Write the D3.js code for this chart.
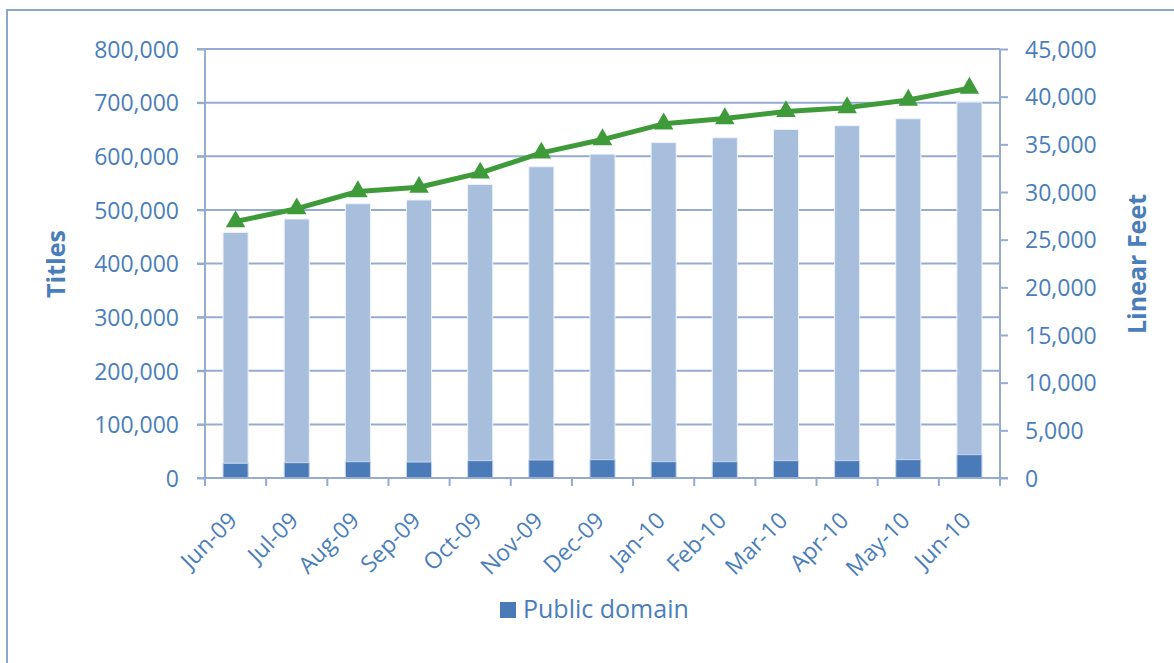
<!DOCTYPE html>
<html>
<head>
<meta charset="utf-8">
<script src="https://cdn.jsdelivr.net/npm/d3@7"></script>
<style>
  html, body { margin: 0; padding: 0; background: #fff; }
  svg { display: block; }
  text { font-family: "Open Sans", sans-serif; fill: #4a7ebb; }
</style>
</head>
<body>
<svg id="chart" width="1174" height="663"></svg>
<script>
// ---- Data ----
const months = ["Jun-09","Jul-09","Aug-09","Sep-09","Oct-09","Nov-09","Dec-09","Jan-10","Feb-10","Mar-10","Apr-10","May-10","Jun-10"];
const totalTitles = [458000, 483000, 511500, 518500, 547500, 580500, 604000, 625500, 634500, 650000, 657000, 670000, 701000];
const publicDomain = [27500, 28600, 30400, 29800, 32300, 33600, 34200, 30400, 30400, 32300, 32300, 34200, 43500];
const linearFeet = [26900, 28250, 30050, 30500, 32000, 34100, 35500, 37150, 37700, 38450, 38850, 39650, 40900];
const leftTicks = [0, 100000, 200000, 300000, 400000, 500000, 600000, 700000, 800000];
const rightTicks = [0, 5000, 10000, 15000, 20000, 25000, 30000, 35000, 40000, 45000];

const svg = d3.select("#chart");
const L = 205, R = 1000, T = 49, B = 478;
const gridColor = "#95abd0";
const textColor = "#4a7ebb";

// border
svg.append("rect").attr("x", 7).attr("y", 10).attr("width", 1300).attr("height", 800)
  .attr("fill", "none").attr("stroke", "#8ea6cc").attr("stroke-width", 2);

const x = d3.scaleBand().domain(months).range([L, R]).paddingInner(0.59).paddingOuter(0.295);
const xb = d3.scaleBand().domain(months).range([L, R]);
const yL = d3.scaleLinear().domain([0, 800000]).range([B, T]);
const yR = d3.scaleLinear().domain([0, 45000]).range([B, T]);

// gridlines
svg.append("g").selectAll("line").data(leftTicks.filter(d => d > 0)).join("line")
  .attr("x1", L - 8).attr("x2", R).attr("y1", d => yL(d)).attr("y2", d => yL(d))
  .attr("stroke", gridColor).attr("stroke-width", 2);

// left axis
const fmt = d3.format(",");
const gL = svg.append("g").attr("transform", `translate(${L},0)`)
  .call(d3.axisLeft(yL).tickValues(leftTicks).tickFormat(fmt).tickSize(8).tickPadding(18));
gL.select(".domain").attr("stroke", gridColor).attr("stroke-width", 2).attr("d", `M-0,${B + 8}V${T}`);
gL.selectAll(".tick line").attr("stroke", gridColor).attr("stroke-width", 2);
gL.selectAll(".tick text").attr("font-size", 23).attr("fill", textColor).attr("font-family", "Open Sans").attr("dy", "0.36em");

// right axis
const gR = svg.append("g").attr("transform", `translate(${R},0)`)
  .call(d3.axisRight(yR).tickValues(rightTicks).tickFormat(fmt).tickSize(8).tickPadding(17));
gR.select(".domain").attr("stroke", gridColor).attr("stroke-width", 2).attr("d", `M0,${B + 8}V${T}`);
gR.selectAll(".tick line").attr("stroke", gridColor).attr("stroke-width", 2);
gR.selectAll(".tick text").attr("font-size", 23).attr("fill", textColor).attr("font-family", "Open Sans").attr("dy", "0.36em");

// bars
const bars = svg.append("g");
bars.selectAll("rect.tot").data(months).join("rect").attr("class", "tot")
  .attr("x", d => x(d)).attr("width", x.bandwidth())
  .attr("y", (d, i) => yL(totalTitles[i])).attr("height", (d, i) => B - yL(totalTitles[i]))
  .attr("fill", "#a7bfdd").attr("stroke", "#eef3fa").attr("stroke-width", 1);
bars.selectAll("rect.pd").data(months).join("rect").attr("class", "pd")
  .attr("x", d => x(d)).attr("width", x.bandwidth())
  .attr("y", (d, i) => yL(publicDomain[i])).attr("height", (d, i) => B - yL(publicDomain[i]))
  .attr("fill", "#4a7bb8").attr("stroke", "#c9d7ea").attr("stroke-width", 1);

// x axis
const gX = svg.append("g").attr("transform", `translate(0,${B})`);
gX.append("line").attr("x1", L - 8).attr("x2", R + 8).attr("y1", 0).attr("y2", 0)
  .attr("stroke", gridColor).attr("stroke-width", 2);
const bounds = months.map(m => xb(m)).concat([R]);
gX.selectAll("line.tk").data(bounds).join("line").attr("class", "tk")
  .attr("x1", d => d).attr("x2", d => d).attr("y1", 0).attr("y2", 8)
  .attr("stroke", gridColor).attr("stroke-width", 2);
gX.selectAll("text").data(months).join("text")
  .attr("transform", d => `translate(${x(d) + x.bandwidth() / 2 + 3},${44}) rotate(-45)`)
  .attr("text-anchor", "end").attr("font-size", 23).text(d => d);

// line
const cx = (d) => x(d) + x.bandwidth() / 2;
const line = d3.line().x((d, i) => cx(months[i])).y(d => yR(d));
svg.append("path").datum(linearFeet).attr("d", line)
  .attr("fill", "none").attr("stroke", "#3f9b3a").attr("stroke-width", 5).attr("stroke-linejoin", "round");
svg.append("g").selectAll("path").data(linearFeet).join("path")
  .attr("transform", (d, i) => `translate(${cx(months[i])},${yR(d)})`)
  .attr("d", d3.symbol().type(d3.symbolTriangle).size(165))
  .attr("fill", "#3f9b3a");

// axis titles
svg.append("text").attr("transform", "translate(65,264) rotate(-90)")
  .attr("text-anchor", "middle").attr("font-size", 25).attr("font-weight", "bold").text("Titles");
svg.append("text").attr("transform", "translate(1146,264) rotate(-90)")
  .attr("text-anchor", "middle").attr("font-size", 25).attr("font-weight", "bold").text("Linear Feet");

// legend
const lg = svg.append("g");
lg.append("rect").attr("x", 500).attr("y", 602).attr("width", 16).attr("height", 16).attr("fill", "#4a7bb8");
lg.append("text").attr("x", 523).attr("y", 618).attr("font-size", 25).text("Public domain");
</script>
</body>
</html>
